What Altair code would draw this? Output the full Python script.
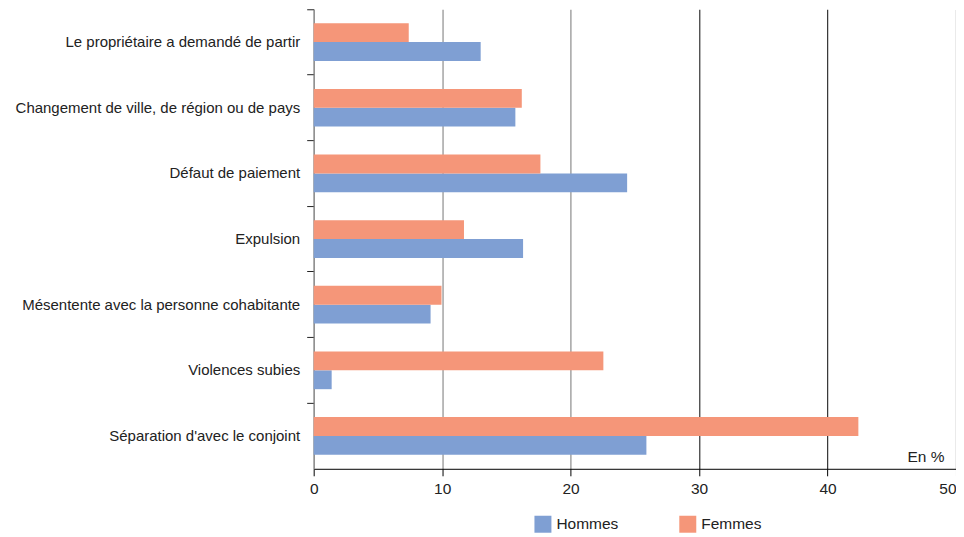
import altair as alt
import pandas as pd

categories = [
    "Le propriétaire a demandé de partir",
    "Changement de ville, de région ou de pays",
    "Défaut de paiement",
    "Expulsion",
    "Mésentente avec la personne cohabitante",
    "Violences subies",
    "Séparation d'avec le conjoint",
]
hommes = [13.0, 15.7, 24.4, 16.3, 9.1, 1.4, 25.9]
femmes = [7.4, 16.2, 17.65, 11.7, 9.95, 22.55, 42.4]
series = ["Hommes", "Femmes"]
x_ticks = [0, 10, 20, 30, 40, 50]

rows = []
for c, h, f in zip(categories, hommes, femmes):
    rows.append({"motif": c, "sexe": "Hommes", "valeur": h})
    rows.append({"motif": c, "sexe": "Femmes", "valeur": f})
df = pd.DataFrame(rows)

FONT = "Liberation Sans"
FS = 15.5

chart = alt.Chart(df).mark_bar().encode(
    x=alt.X(
        "valeur:Q",
        scale=alt.Scale(domain=[0, 50], nice=False),
        axis=alt.Axis(
            values=x_ticks,
            title="En %",
            titleX=631,
            titleY=-7,
            titleAlign="right",
            titleBaseline="alphabetic",
            titleFontWeight="normal",
            titleFontSize=FS,
            titleFont=FONT,
            titleColor="#222",
            grid=True,
            gridColor={"condition": {"test": "datum.value <= 20", "value": "#8c8c8c"}, "value": "#333333"},
            gridWidth=1.2,
            domainColor="#000",
            tickColor="#000",
            tickSize=7,
            labelPadding=6,
            labelFlush=False,
            labelAlign={"condition": {"test": "datum.value >= 50", "value": "right"}, "value": "center"},
            labelFontSize=FS,
            labelFont=FONT,
            labelColor="#222",
        ),
    ),
    y=alt.Y(
        "motif:N",
        sort=categories,
        scale=alt.Scale(paddingInner=0, paddingOuter=0),
        axis=alt.Axis(
            title=None,
            bandPosition=0,
            domainColor="#8c8c8c",
            domainWidth=1.2,
            tickColor="#222",
            tickSize=7,
            labelPadding=7,
            labelFontSize=15,
            labelFont=FONT,
            labelColor="#222",
            labelLimit=400,
            grid=False,
        ),
    ),
    yOffset=alt.YOffset(
        "sexe:N",
        sort=["Femmes", "Hommes"],
        scale=alt.Scale(paddingInner=0, paddingOuter=0.74),
    ),
    color=alt.Color(
        "sexe:N",
        scale=alt.Scale(domain=series, range=["#7F9FD3", "#F59679"]),
        legend=alt.Legend(
            title=None,
            orient="none",
            legendX=221,
            legendY=507,
            direction="horizontal",
            columnPadding=60,
            symbolType="square",
            symbolSize=289,
            symbolStrokeWidth=0,
            symbolOpacity=1,
            labelFontSize=FS,
            labelFont=FONT,
            labelColor="#222",
            labelOffset=5,
        ),
    ),
).properties(
    width=643,
    height=460,
    autosize=alt.AutoSizeParams(type="none"),
    padding={"left": 306, "top": 1, "right": 0, "bottom": 68},
).configure_view(stroke=None)

chart.save("out.html", embed_options={"renderer": "svg", "actions": False})
